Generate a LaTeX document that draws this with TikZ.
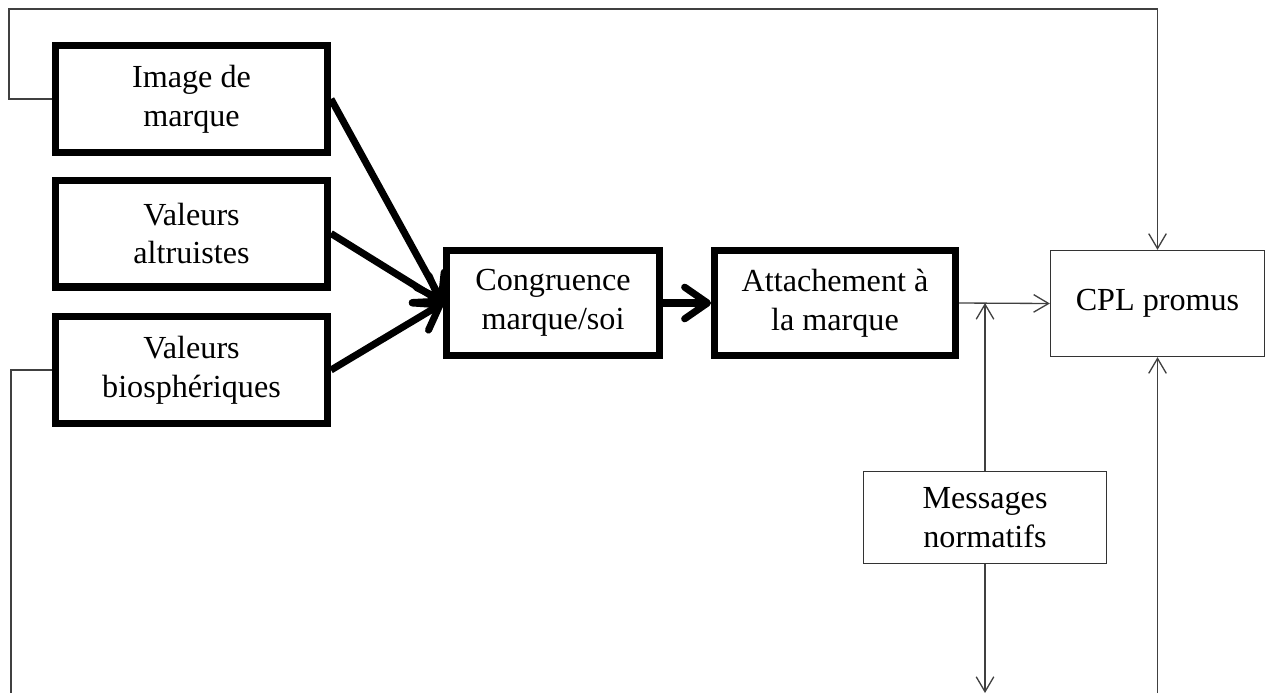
\documentclass[tikz,border=0pt]{standalone}
\usepackage{fontspec}
\setmainfont{Liberation Serif}
\usetikzlibrary{arrows.meta}
\begin{document}
\begin{tikzpicture}[x=0.02cm,y=-0.02cm,
    every node/.style={font=\fontsize{18.3}{22}\selectfont, align=center, inner sep=0pt},
    thickbox/.style={draw, line width=4pt},
    thinbox/.style={draw, black!80, line width=0.75pt, text=black},
    fat/.style={line width=4pt, -{Straight Barb[length=13pt,width=18pt,round]}},
    thin/.style={black!75, line width=0.75pt},
    thinarrow/.style={thin, -{Straight Barb[length=8.5pt,width=10pt]}}]
  \useasboundingbox (0,0) rectangle (1266,693);
  % left column
  \node[thickbox, minimum width=5.44cm, minimum height=2.14cm] (img) at (191.5,99) {Image de\\marque};
  \node[thickbox, minimum width=5.44cm, minimum height=2.14cm] (alt) at (191.5,233.5) {Valeurs\\altruistes};
  \node[thickbox, minimum width=5.44cm, minimum height=2.14cm] (bio) at (191.5,370) {Valeurs\\biosphériques};
  % middle
  \node[thickbox, minimum width=4.26cm, minimum height=2.1cm] (cong) at (553,303) {Congruence\\marque/soi};
  \node[thickbox, minimum width=4.82cm, minimum height=2.1cm] (att) at (835,303) {Attachement à\\la marque};
  % right
  \node[thinbox, minimum width=4.28cm, minimum height=2.12cm] (cpl) at (1157.5,303.5) {CPL promus};
  \node[thinbox, minimum width=4.86cm, minimum height=1.84cm] (msg) at (985,517.5) {Messages\\normatifs};
  \coordinate (tl) at (9,9);
  \coordinate (bl) at (11,693);
  % thick arrows
  \draw[fat] (img.east) -- (cong.west);
  \draw[fat] (alt.east) -- (cong.west);
  \draw[fat] (bio.east) -- (cong.west);
  \draw[fat] (cong.east) -- (att.west);
  % thin lines
  \draw[thinarrow] (img.west) -| (tl) -| (cpl.north);
  \draw[thin] (bio.west) -| (bl);
  \draw[thinarrow] (att.east) -- (cpl.west);
  \draw[thinarrow] (msg.north) -- (msg.north |- att.east);
  \draw[thinarrow] (msg.south) -- (msg.south |- bl);
  \draw[thinarrow] (cpl.south |- bl) -- (cpl.south);
\end{tikzpicture}
\end{document}
